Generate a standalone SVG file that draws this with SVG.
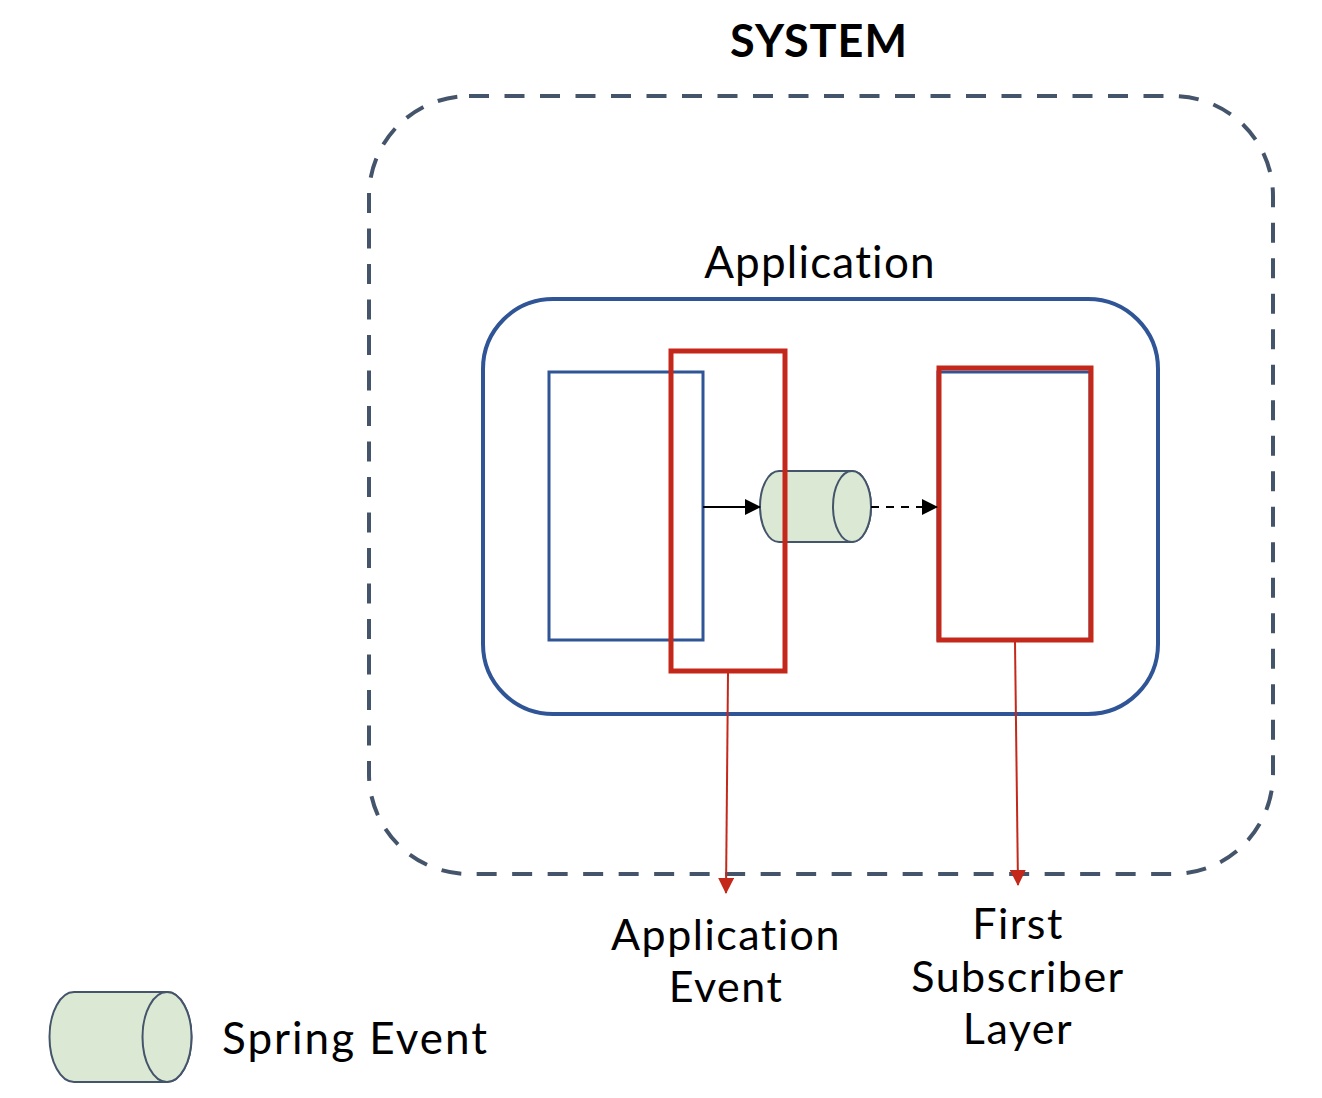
<svg xmlns="http://www.w3.org/2000/svg" width="1322" height="1098" viewBox="0 0 1322 1098">
<style>
  .t { font-family: Lato, "Noto Sans", sans-serif; fill: #000; }
  .blue { fill: none; stroke: #2f5597; }
  .red { fill: none; stroke: #c3281b; stroke-width: 5; }
  .cyl { fill: #dae8d4; stroke: #44546a; stroke-width: 2; }
</style>
<defs>
  <marker id="ab" markerUnits="userSpaceOnUse" markerWidth="16" markerHeight="16" refX="15" refY="8" orient="auto">
    <path d="M0,0 L16,8 L0,16 Z" fill="#000"/>
  </marker>
  <marker id="ar" markerUnits="userSpaceOnUse" markerWidth="16" markerHeight="16" refX="15" refY="8" orient="auto">
    <path d="M0,0 L16,8 L0,16 Z" fill="#c3281b"/>
  </marker>
</defs>
<rect width="1322" height="1098" fill="#fff"/>

<g id="system">
  <rect x="369" y="96" width="904" height="778" rx="100" ry="100" fill="none" stroke="#44546a" stroke-width="4" stroke-dasharray="20 15.5"/>
  <text class="t" x="819" y="57" font-size="45" font-weight="bold" letter-spacing="1" text-anchor="middle">SYSTEM</text>
</g>

<g id="application">
  <rect x="483" y="299" width="675" height="415" rx="70" ry="70" class="blue" stroke-width="4"/>
  <text class="t" x="820" y="278" font-size="44" letter-spacing="1.2" text-anchor="middle">Application</text>
</g>

<g id="publisher">
  <rect x="549" y="372" width="154" height="268" class="blue" stroke-width="3"/>
</g>

<g id="subscriber">
  <rect x="938" y="372" width="152" height="268" class="blue" stroke-width="3"/>
</g>

<g id="spring-event">
  <path class="cyl" d="M779,471 L852,471 A19,35.5 0 0 1 852,542 L779,542 A19,35.5 0 0 1 779,471 Z"/>
  <ellipse class="cyl" cx="852" cy="506.5" rx="19" ry="35.5"/>
</g>

<g id="application-event">
  <rect x="671" y="351" width="114" height="320" class="red"/>
  <text class="t" font-size="43" letter-spacing="1.5" text-anchor="middle"><tspan x="726" y="950">Application</tspan><tspan x="726" y="1002">Event</tspan></text>
</g>

<g id="first-subscriber-layer">
  <rect x="939" y="368" width="152" height="272" class="red"/>
  <text class="t" font-size="43" letter-spacing="1.5" text-anchor="middle"><tspan x="1018" y="939">First</tspan><tspan x="1018" y="992">Subscriber</tspan><tspan x="1018" y="1044">Layer</tspan></text>
</g>

<g id="legend">
  <path class="cyl" d="M74,992 L167,992 A24.5,45 0 0 1 167,1082 L74,1082 A24.5,45 0 0 1 74,992 Z"/>
  <ellipse class="cyl" cx="167" cy="1037" rx="24.5" ry="45"/>
  <text class="t" x="222" y="1054" font-size="44" letter-spacing="2">Spring Event</text>
</g>

<g id="connectors">
  <line x1="703" y1="507" x2="760" y2="507" stroke="#000" stroke-width="2" marker-end="url(#ab)"/>
  <line x1="871" y1="507" x2="937" y2="507" stroke="#000" stroke-width="2" stroke-dasharray="8 7" marker-end="url(#ab)"/>
  <line x1="728" y1="673" x2="726" y2="893" stroke="#c3281b" stroke-width="2" marker-end="url(#ar)"/>
  <line x1="1015" y1="642" x2="1018" y2="885" stroke="#c3281b" stroke-width="2" marker-end="url(#ar)"/>
</g>
</svg>
